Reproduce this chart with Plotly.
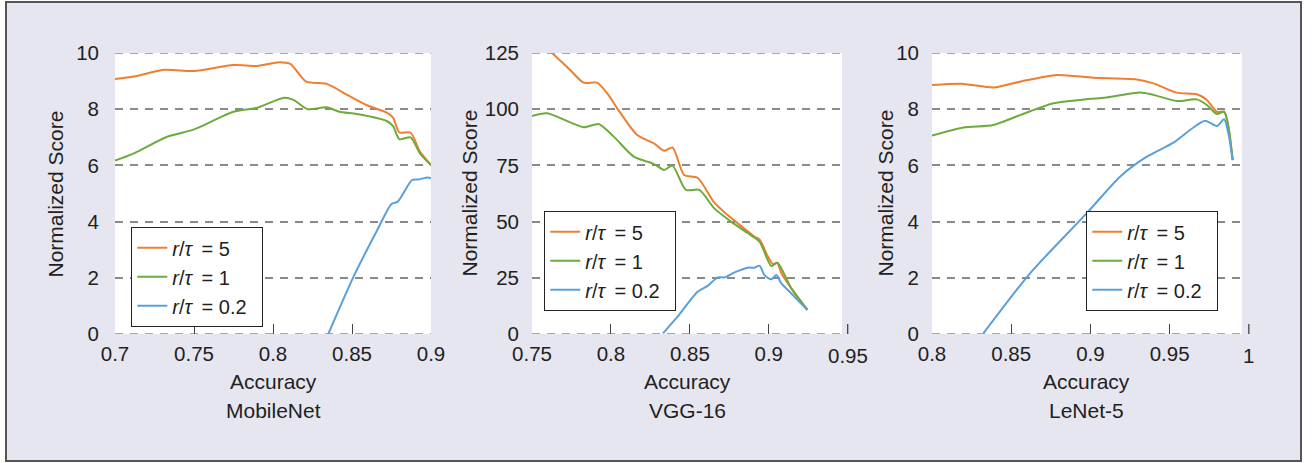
import plotly.graph_objects as go

# ---------------- data ----------------
series_names = ["<i>r</i>/<i>τ</i>\u2009 = 5", "<i>r</i>/<i>τ</i>\u2009 = 1", "<i>r</i>/<i>τ</i>\u2009 = 0.2\u2002"]
panel_titles = ["MobileNet", "VGG-16", "LeNet-5"]

# MobileNet
mob_x_o = [0.700, 0.712, 0.731, 0.750, 0.775, 0.790, 0.804, 0.811, 0.821, 0.834, 0.847, 0.859, 0.872, 0.876, 0.880, 0.887, 0.893, 0.900]
mob_y_o = [9.07, 9.16, 9.40, 9.36, 9.57, 9.54, 9.67, 9.61, 8.98, 8.90, 8.51, 8.15, 7.88, 7.70, 7.17, 7.17, 6.49, 6.01]
mob_x_g = [0.700, 0.712, 0.733, 0.750, 0.775, 0.790, 0.807, 0.813, 0.822, 0.834, 0.842, 0.853, 0.872, 0.876, 0.880, 0.887, 0.893, 0.900]
mob_y_g = [6.17, 6.43, 7.02, 7.28, 7.91, 8.05, 8.41, 8.33, 8.00, 8.07, 7.91, 7.83, 7.58, 7.40, 6.93, 7.00, 6.43, 6.01]
mob_x_b = [0.835, 0.851, 0.866, 0.875, 0.879, 0.888, 0.892, 0.898, 0.900]
mob_y_b = [0.00, 2.04, 3.70, 4.63, 4.71, 5.48, 5.50, 5.57, 5.54]

# VGG-16
vgg_x_o = [0.762, 0.7742, 0.7827, 0.7912, 0.7976, 0.804, 0.8167, 0.8273, 0.8337, 0.839, 0.8464, 0.8549, 0.8655, 0.874, 0.8825, 0.891, 0.8941, 0.8995, 0.9026, 0.9054, 0.908, 0.9143, 0.9245]
vgg_y_o = [125.5, 117.4, 111.8, 111.8, 107.1, 100.4, 88.5, 84.8, 81.5, 83.0, 70.7, 69.5, 58.4, 52.9, 48.0, 43.3, 42.1, 34.4, 31.1, 31.7, 27.0, 20.3, 10.7]
vgg_x_g = [0.750, 0.7595, 0.7827, 0.7922, 0.8018, 0.8145, 0.8273, 0.8337, 0.839, 0.8475, 0.856, 0.8655, 0.8761, 0.8868, 0.8941, 0.9016, 0.9054, 0.9143, 0.9245]
vgg_y_g = [97.0, 98.2, 92.0, 93.4, 87.8, 78.9, 75.6, 73.0, 74.9, 64.1, 64.1, 55.9, 50.0, 44.8, 41.1, 30.2, 31.7, 20.3, 10.7]
vgg_x_b = [0.833, 0.8422, 0.8549, 0.8613, 0.8677, 0.8719, 0.8783, 0.8868, 0.891, 0.8941, 0.8973, 0.9016, 0.9048, 0.908, 0.9143, 0.9245]
vgg_y_b = [0.3, 7.7, 18.8, 21.4, 25.2, 25.2, 27.4, 29.5, 29.5, 30.4, 26.2, 24.3, 26.2, 22.5, 18.0, 10.7]

# LeNet-5
len_x_o = [0.800, 0.8198, 0.8387, 0.8556, 0.8788, 0.9018, 0.9292, 0.9398, 0.9545, 0.9671, 0.9735, 0.9798, 0.9844, 0.9871, 0.9898]
len_y_o = [8.86, 8.90, 8.77, 8.98, 9.22, 9.12, 9.06, 8.92, 8.59, 8.53, 8.33, 7.91, 7.91, 7.38, 6.19]
len_x_g = [0.800, 0.8198, 0.8387, 0.8556, 0.8766, 0.8934, 0.9103, 0.9313, 0.9398, 0.9545, 0.9671, 0.9735, 0.9798, 0.9844, 0.9871, 0.9898]
len_y_g = [7.06, 7.35, 7.44, 7.79, 8.21, 8.33, 8.42, 8.59, 8.51, 8.29, 8.35, 8.15, 7.83, 7.91, 7.38, 6.19]
len_x_b = [0.8324, 0.8619, 0.8977, 0.9187, 0.9356, 0.9524, 0.965, 0.9724, 0.9798, 0.9844, 0.9871, 0.9898]
len_y_b = [0.02, 2.16, 4.30, 5.60, 6.31, 6.81, 7.35, 7.59, 7.40, 7.64, 7.14, 6.19]

# axes
x_ranges = [[0.70, 0.90], [0.75, 0.9464], [0.80, 0.9955]]
x_ticks = [[0.70, 0.75, 0.80, 0.85, 0.90], [0.75, 0.80, 0.85, 0.90, 0.95], [0.80, 0.85, 0.90, 0.95, 1.0]]
x_ticklabels = [["0.7", "0.75", "0.8", "0.85", "0.9"], ["0.75", "0.8", "0.85", "0.9", "0.95"], ["0.8", "0.85", "0.9", "0.95", "1"]]
y_ranges = [[0, 10], [0, 125], [0, 10]]
y_ticks = [[0, 2, 4, 6, 8, 10], [0, 25, 50, 75, 100, 125], [0, 2, 4, 6, 8, 10]]

# ---------------- style / layout constants ----------------
W, H = 1313, 463
TOP, BOT = 53, 334
PH = BOT - TOP
x_px = [(115, 431), (532, 842), (932, 1241.7)]
ytitle_px = [55, 469, 885]
ylab_standoff = [15, 12, 12]
legend_px = [(131, 227), (544, 211), (1086, 211)]

C_O = "#EF7E2E"
C_G = "#6CAB3C"
C_B = "#5B9FD8"
BG = "#E6E6F0"
FONT = "Liberation Sans, Arial, sans-serif"
TXT = "#231F20"
FS_TICK = 20.5
FS_TXT = 21
FS_LEG = 20
GRID = "#8A8A8A"

def py(p):
    return (BOT - p) / PH

fig = go.Figure()
panels = [
    (mob_x_o, mob_y_o, mob_x_g, mob_y_g, mob_x_b, mob_y_b),
    (vgg_x_o, vgg_y_o, vgg_x_g, vgg_y_g, vgg_x_b, vgg_y_b),
    (len_x_o, len_y_o, len_x_g, len_y_g, len_x_b, len_y_b),
]
colors = [C_O, C_G, C_B]
for i, pdata in enumerate(panels):
    sfx = "" if i == 0 else str(i + 1)
    for k in range(3):
        fig.add_trace(go.Scatter(
            x=pdata[2 * k], y=pdata[2 * k + 1], mode="lines",
            line=dict(color=colors[k], width=2, shape="spline", smoothing=0.7),
            name=series_names[k], xaxis="x" + sfx, yaxis="y" + sfx,
            legend="legend" + sfx, showlegend=True,
        ))

layout = dict(
    width=W, height=H, template="none",
    margin=dict(l=0, r=0, t=TOP, b=H - BOT, pad=0),
    paper_bgcolor="white", plot_bgcolor="white",
    font=dict(family=FONT, size=FS_TXT, color=TXT),
    shapes=[], annotations=[],
)

# frame
layout["shapes"].append(dict(type="rect", xref="paper", yref="paper", layer="below",
                             x0=6 / W, x1=1301 / W, y0=py(461), y1=py(2),
                             fillcolor=BG, line=dict(color="#555555", width=2)))

for i in range(3):
    sfx = "" if i == 0 else str(i + 1)
    d0, d1 = x_px[i][0] / W, x_px[i][1] / W
    xr = x_ranges[i]
    in_vals = [v for v in x_ticks[i] if xr[0] - 1e-9 <= v <= xr[1] + 1e-9]
    in_text = [t for v, t in zip(x_ticks[i], x_ticklabels[i]) if xr[0] - 1e-9 <= v <= xr[1] + 1e-9]
    layout["xaxis" + sfx] = dict(
        domain=[d0, d1], range=xr, anchor="y" + sfx,
        tickvals=in_vals, ticktext=in_text,
        ticks="inside", ticklen=10, tickwidth=1.3, tickcolor="#444444",
        showgrid=False, zeroline=False, showline=False,
        tickfont=dict(size=FS_TICK, color=TXT), ticklabelstandoff=5,
    )
    layout["yaxis" + sfx] = dict(
        domain=[0, 1], range=y_ranges[i], anchor="x" + sfx,
        tickvals=y_ticks[i], ticks="", showline=False, zeroline=False,
        showgrid=True, gridcolor=GRID, gridwidth=1.7, griddash="8px,7px",
        tickfont=dict(size=FS_TICK, color=TXT), ticklabelstandoff=ylab_standoff[i],
    )
    # white plot area
    layout["shapes"].append(dict(type="rect", xref="paper", yref="paper", layer="below",
                                 x0=d0, x1=d1, y0=0, y1=1, fillcolor="white", line=dict(width=0)))
    # dashed lines at the range ends (bottom and top)
    for v in (y_ranges[i][0], y_ranges[i][1]):
        layout["shapes"].append(dict(type="line", xref="x" + sfx + " domain", yref="y" + sfx,
                                     x0=0, x1=1, y0=v, y1=v, layer="below",
                                     line=dict(color=GRID, width=1.7, dash="8px,7px")))
    # ticks beyond the plotted range
    for v, t in zip(x_ticks[i], x_ticklabels[i]):
        if v > xr[1] + 1e-9:
            xp = d0 + (d1 - d0) * (v - xr[0]) / (xr[1] - xr[0])
            layout["shapes"].append(dict(type="line", xref="paper", yref="paper",
                                         x0=xp, x1=xp, y0=0, y1=10 / PH,
                                         line=dict(color="#444444", width=1.3)))
            layout["annotations"].append(dict(xref="paper", yref="paper", x=xp, y=py(355),
                                              text=t, showarrow=False, xanchor="center",
                                              yanchor="middle", font=dict(size=FS_TICK, color=TXT)))
    cx = (d0 + d1) / 2
    layout["annotations"].append(dict(xref="paper", yref="paper", x=cx, y=py(382), text="Accuracy",
                                      showarrow=False, xanchor="center", yanchor="middle",
                                      font=dict(size=FS_TXT, color=TXT)))
    layout["annotations"].append(dict(xref="paper", yref="paper", x=cx, y=py(410), text=panel_titles[i],
                                      showarrow=False, xanchor="center", yanchor="middle",
                                      font=dict(size=FS_TXT, color=TXT)))
    layout["annotations"].append(dict(xref="paper", yref="paper", x=ytitle_px[i] / W, y=0.5,
                                      text="Normalized Score", textangle=-90, showarrow=False,
                                      xanchor="center", yanchor="middle",
                                      font=dict(size=FS_TXT, color=TXT)))
    lx, ly = legend_px[i]
    layout["legend" + sfx] = dict(
        x=lx / W, y=py(ly), xanchor="left", yanchor="top", xref="paper", yref="paper",
        bgcolor="white", bordercolor="#222222", borderwidth=1.3,
        font=dict(size=FS_LEG, color=TXT), itemwidth=30, tracegroupgap=0,
    )

fig.update_layout(**layout)
fig.write_html("out.html")
